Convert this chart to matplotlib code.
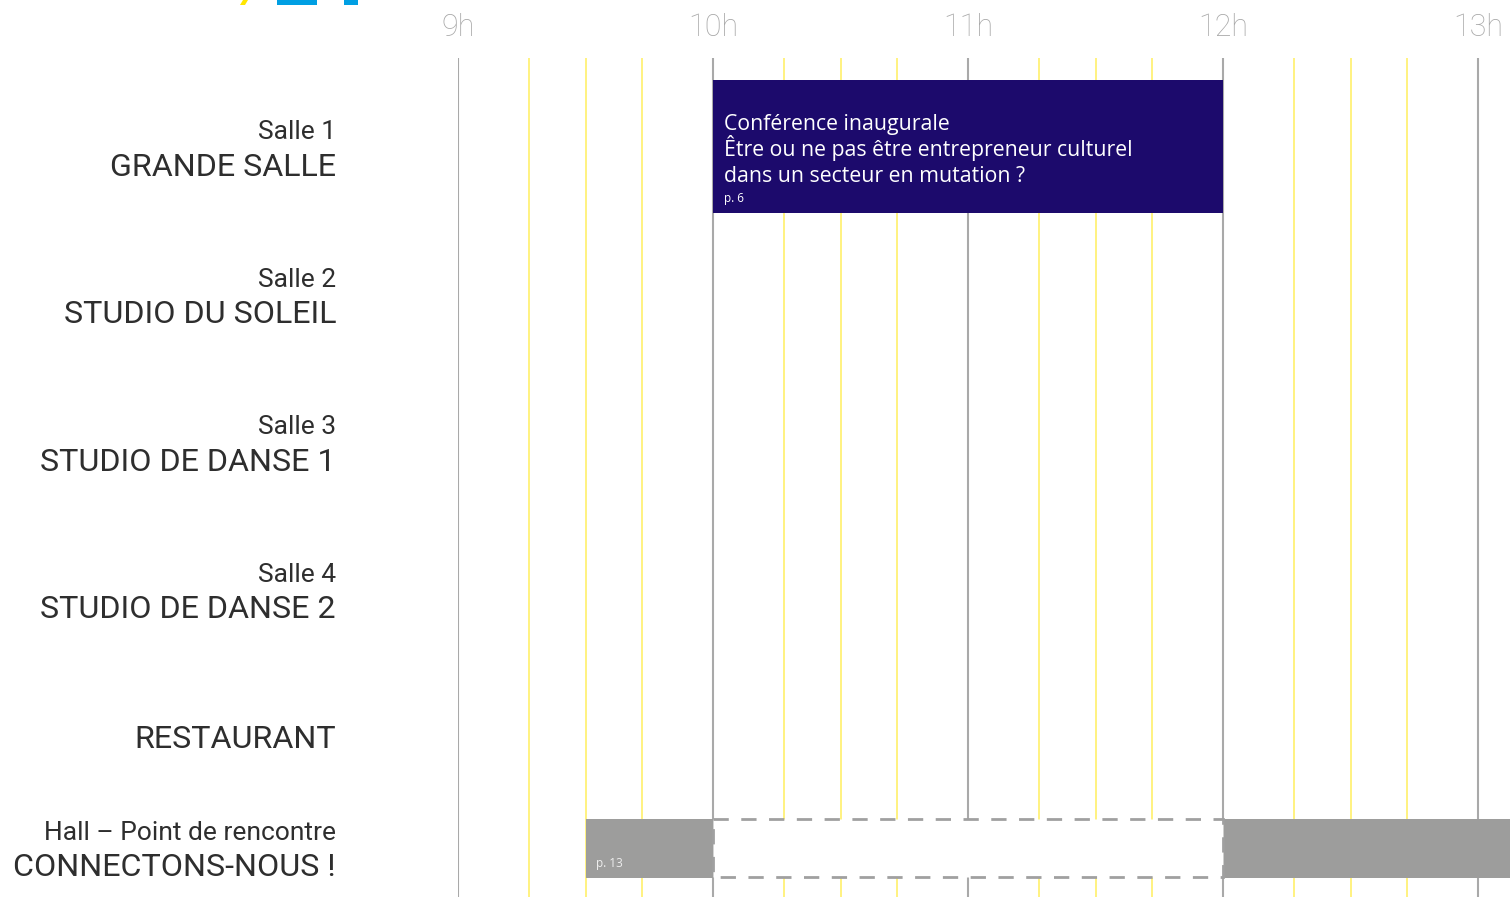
import matplotlib
matplotlib.use("Agg")
import matplotlib.pyplot as plt
from matplotlib.patches import Rectangle, Polygon
from matplotlib.transforms import blended_transform_factory

# ---- data ----
hours = [9, 10, 11, 12, 13]
hour_labels = ["9h", "10h", "11h", "12h", "13h"]
minor_offsets = [0.28, 0.50, 0.72]

room_small = ["Salle 1", "Salle 2", "Salle 3", "Salle 4", "", "Hall – Point de rencontre"]
room_big = ["GRANDE SALLE", "STUDIO DU SOLEIL", "STUDIO DE DANSE 1",
            "STUDIO DE DANSE 2", "RESTAURANT", "CONNECTONS-NOUS !"]
row_pos = [0, 1, 2, 3, 4, 4.75]

# conference event
conf_row = 0
conf_start, conf_end = 10.0, 12.0
conf_lines = ["Conférence inaugurale",
              "Être ou ne pas être entrepreneur culturel",
              "dans un secteur en mutation ?"]
conf_page = "p. 6"

# hall sessions
hall_row = 5
hall_starts = [9.5, 12.0]
hall_ends = [10.0, 13.5]
hall_page = "p. 13"
hall_gap_start, hall_gap_end = 10.0, 12.0

# ---- figure ----
W, H = 1510, 897
fig = plt.figure(figsize=(W / 100, H / 100), dpi=100)
ax = fig.add_axes([458 / W, 0, (W - 458) / W, (H - 58) / H])
ax.set_xlim(9, 9 + (W - 458) / 255)
ax.set_ylim(5.088, -0.6)
ax.axis("off")

GRAY_LINE = "#a9a9a9"
YELLOW = "#fff176"
NAVY = "#1c0a6c"
BAR_GRAY = "#9d9d9c"
TXT = "#2e2e2e"
FONT = ["Roboto", "DejaVu Sans"]
EVFONT = ["Open Sans", "DejaVu Sans"]

# grid lines
for h in hours:
    ax.axvline(h, color=GRAY_LINE, lw=1.5, zorder=1)
    for m in minor_offsets:
        if h + m < ax.get_xlim()[1]:
            ax.axvline(h + m, color=YELLOW, lw=1.3, zorder=1)

# hour labels
tr = blended_transform_factory(ax.transData, fig.transFigure)
for h, lab in zip(hours, hour_labels):
    ax.text(h, 1 - 27 / H, lab, transform=tr, ha="center", va="center",
            fontsize=22, color="#a8a8a8", family=FONT, fontweight="light",
            clip_on=False)

# room labels
unit = 147.5
for sm, bg, y in zip(room_small, room_big, row_pos):
    yc = 146.5 + y * unit + 3
    if sm:
        fig.text(336 / W, 1 - (yc - 17.5) / H, sm, ha="right",
                 va="center", fontsize=19, color=TXT, family=FONT)
        fig.text(336 / W, 1 - (yc + 17.5) / H, bg, ha="right",
                 va="center", fontsize=23.2, color=TXT, family=FONT)
    else:
        fig.text(336 / W, 1 - yc / H, bg, ha="right",
                 va="center", fontsize=23.2, color=TXT, family=FONT)

# conference bar
cy = row_pos[conf_row]
ax.add_patch(Rectangle((conf_start, cy - 0.451), conf_end - conf_start, 0.902,
                       facecolor=NAVY, edgecolor="none", zorder=3))
for i, line in enumerate(conf_lines):
    ax.text(conf_start + 0.043, cy - 0.112 + i * 0.1763, line, color="white",
            fontsize=15.3, family=EVFONT, va="baseline", ha="left", zorder=4)
ax.text(conf_start + 0.043, cy + 0.35, conf_page, color="white", fontsize=8.5,
        family=EVFONT, va="center", ha="left", zorder=4)

# hall bars
hy = row_pos[hall_row] + 0.006
hh = 0.40
for s, e in zip(hall_starts, hall_ends):
    ax.add_patch(Rectangle((s, hy - hh / 2), e - s, hh, facecolor=BAR_GRAY,
                           edgecolor="none", zorder=3))
ax.text(hall_starts[0] + 0.043, hy + 0.105, hall_page, color="#eeeeee", fontsize=8.5,
        family=EVFONT, va="center", ha="left", zorder=4)
ax.add_patch(Rectangle((hall_gap_start, hy - 0.39 / 2), hall_gap_end - hall_gap_start, 0.39,
                       facecolor="white", edgecolor="#a0a0a0", lw=2.0,
                       linestyle=(0, (5.5, 4.5)), zorder=3))

# decorative cropped title fragments at top-left
fig.patches.append(Polygon([(240 / W, 1 - 5 / H), (245 / W, 1 - 5 / H),
                            (248 / W, 1.0), (243 / W, 1.0)],
                           closed=True, facecolor="#ffe600", edgecolor="none",
                           transform=fig.transFigure, figure=fig))
fig.patches.append(Rectangle((277 / W, 1 - 5 / H), 40 / W, 5 / H, facecolor="#009fe3",
                             edgecolor="none", transform=fig.transFigure, figure=fig))
fig.patches.append(Rectangle((344 / W, 1 - 5 / H), 14 / W, 5 / H, facecolor="#009fe3",
                             edgecolor="none", transform=fig.transFigure, figure=fig))

fig.savefig("out.png", dpi=100)
